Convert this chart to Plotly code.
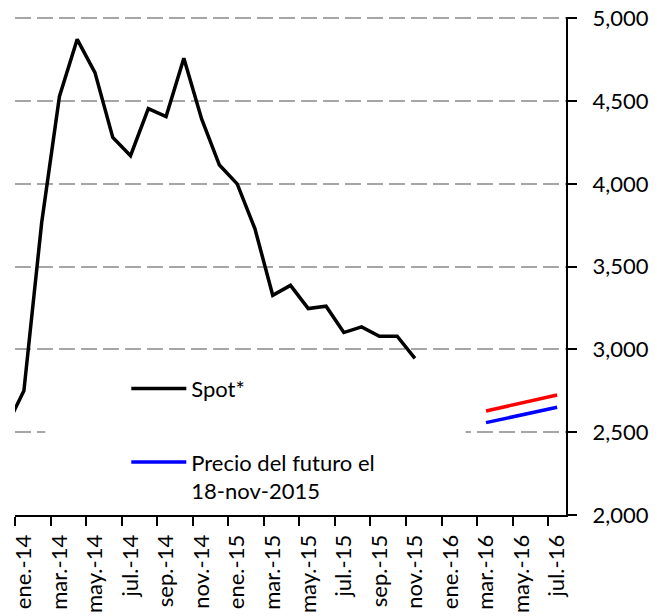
import plotly.graph_objects as go

# ---- data ----
month_labels = ["dic.-13",
                "ene.-14", "feb.-14", "mar.-14", "abr.-14", "may.-14", "jun.-14",
                "jul.-14", "ago.-14", "sep.-14", "oct.-14", "nov.-14", "dic.-14",
                "ene.-15", "feb.-15", "mar.-15", "abr.-15", "may.-15", "jun.-15",
                "jul.-15", "ago.-15", "sep.-15", "oct.-15", "nov.-15", "dic.-15",
                "ene.-16", "feb.-16", "mar.-16", "abr.-16", "may.-16", "jun.-16",
                "jul.-16"]
# month index: ene.-14 = 0
month_index = list(range(-1, len(month_labels) - 1))

spot_months = month_index[0:24]   # dic.-13 .. nov.-15
spot_values = [2530, 2750, 3765, 4528, 4873, 4672, 4281, 4170, 4455, 4407,
               4759, 4392, 4114, 4000, 3729, 3327, 3387, 3247, 3261, 3102,
               3136, 3080, 3080, 2946]

future_months = [26, 28, 30]      # mar.-16, may.-16, jul.-16
future_blue = [2558, 2605, 2651]
future_red = [2628, 2676, 2725]

tick_months = list(range(0, 31, 2))
tick_labels = [month_labels[m + 1] for m in tick_months]

FONT = "Lato"

fig = go.Figure()
fig.add_trace(go.Scatter(x=spot_months, y=spot_values, mode="lines",
                         name="Spot*", legendgroup="a",
                         line=dict(color="black", width=3.5)))
fig.add_trace(go.Scatter(x=future_months, y=future_blue, mode="lines",
                         name="Precio del futuro el<br>18-nov-2015", legendgroup="b",
                         line=dict(color="#0000FF", width=3.5)))
fig.add_trace(go.Scatter(x=future_months, y=future_red, mode="lines",
                         name="Precio del futuro (2)", showlegend=False,
                         line=dict(color="#FF0000", width=3.5)))

# white box behind the legend (hides gridlines)
fig.add_shape(type="rect", xref="x", yref="y", x0=1.2, x1=24.85, y0=2000, y1=2960,
              fillcolor="white", line=dict(width=0), layer="between")

fig.update_layout(
    width=668, height=616,
    margin=dict(l=15, r=102, t=17, b=101),
    paper_bgcolor="white", plot_bgcolor="white",
    font=dict(family=FONT, size=23, color="black"),
    legend=dict(x=0.202, y=0.296, xanchor="left", yanchor="top",
                bgcolor="rgba(0,0,0,0)", borderwidth=0,
                tracegroupgap=42, itemwidth=55, valign="top",
                font=dict(family=FONT, size=22)),
    xaxis=dict(range=[-0.5, 30.5], automargin=False,
               tickmode="array",
               tickvals=[m - 0.5 for m in tick_months],
               ticktext=tick_labels,
               tickangle=-90, ticklabelshift=9, ticklabelstandoff=0,
               ticklabeloverflow="allow",
               ticks="outside", ticklen=9, tickwidth=1.5, tickcolor="black",
               showline=True, linecolor="black", linewidth=2,
               showgrid=False, zeroline=False,
               tickfont=dict(family=FONT, size=22)),
    yaxis=dict(range=[2000, 5008], side="right", automargin=False,
               tickmode="linear", tick0=2000, dtick=500, tickformat=",",
               ticklabeloverflow="allow",
               ticks="outside", ticklen=9, tickwidth=1.5, tickcolor="black",
               showline=True, linecolor="black", linewidth=2,
               showgrid=True, gridcolor="#A6A6A6", gridwidth=2,
               griddash="16px,6px", zeroline=False,
               ticklabelstandoff=11,
               tickfont=dict(family=FONT, size=22)),
)

fig.write_html("out.html",
               config={"displayModeBar": False},
               post_script="document.body.style.margin='0px';"
                           "document.body.style.overflow='hidden';")
